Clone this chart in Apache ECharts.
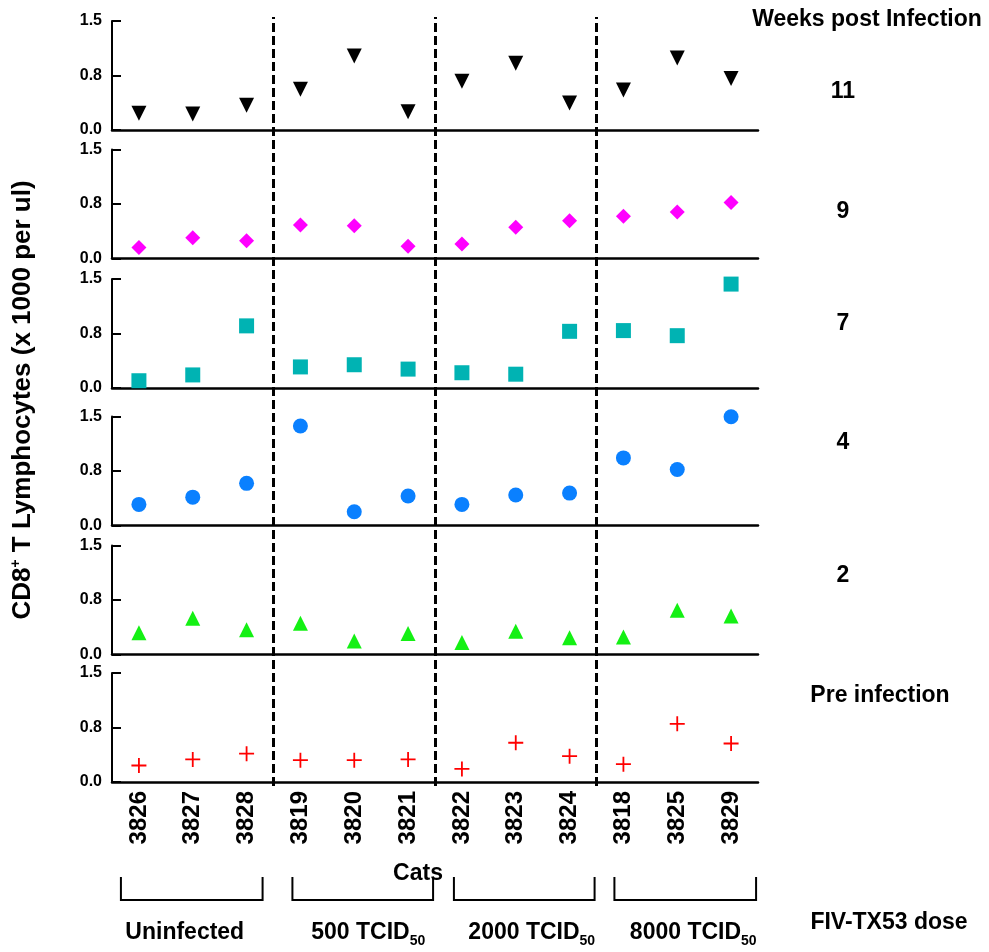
<!DOCTYPE html>
<html>
<head>
<meta charset="utf-8">
<script src="https://cdn.jsdelivr.net/npm/echarts@6/dist/echarts.min.js"></script>
<style>
html,body{margin:0;padding:0;background:#fff;}
#c{width:989px;height:952px;}
</style>
</head>
<body>
<div id="c"></div>
<script>
// ---- data ----
const cats = ['3826','3827','3828','3819','3820','3821','3822','3823','3824','3818','3825','3829'];
const week11 = [0.23, 0.22, 0.34, 0.56, 1.02, 0.25, 0.67, 0.92, 0.37, 0.55, 0.99, 0.71];
const week9  = [0.15, 0.285, 0.245, 0.46, 0.45, 0.17, 0.20, 0.43, 0.52, 0.58, 0.64, 0.77];
const week7  = [0.10, 0.18, 0.855, 0.29, 0.32, 0.26, 0.21, 0.19, 0.78, 0.79, 0.72, 1.43];
const week4  = [0.29, 0.39, 0.58, 1.37, 0.19, 0.405, 0.29, 0.42, 0.446, 0.93, 0.77, 1.497];
const week2  = [0.30, 0.50, 0.34, 0.43, 0.185, 0.29, 0.166, 0.32, 0.23, 0.24, 0.61, 0.53];
const preInf = [0.227, 0.31, 0.39, 0.30, 0.30, 0.31, 0.18, 0.54, 0.355, 0.245, 0.80, 0.53];
const panelNames = ['11', '9', '7', '4', '2', 'Pre infection'];
const yTickValues = [0, 0.75, 1.5];
const yTickLabels = ['0.0', '0.8', '1.5'];
const groupNames = ['Uninfected', '500 TCID', '2000 TCID', '8000 TCID'];
const groupSubs = ['', '50', '50', '50'];
const groupSeparators = [3, 6, 9];

// ---- layout / style ----
const FONT = 'Liberation Sans';
const gridLeft = 112, gridWidth = 646, gridH = 109;
const gridTops = [21, 149.5, 279, 416.5, 545.5, 673];
const panelLabelY = [92, 212, 324, 443, 576, 696];
const plusPath = 'path://M0,6.6H6.6V0H8.4V6.6H15V8.4H8.4V15H6.6V8.4H0Z';
const panelSeries = [
  {data: week11, symbol: 'triangle', rotate: 180, color: '#000000', size: 15},
  {data: week9, symbol: 'diamond', rotate: 0, color: '#ff00ff', size: [15, 15]},
  {data: week7, symbol: 'rect', rotate: 0, color: '#00b3b3', size: 15},
  {data: week4, symbol: 'circle', rotate: 0, color: '#0a80ff', size: 15},
  {data: week2, symbol: 'triangle', rotate: 0, color: '#14f014', size: 15},
  {data: preInf, symbol: plusPath, rotate: 0, color: '#ff0000', size: 15}
];

const grids = [], xAxes = [], yAxes = [], series = [];
panelSeries.forEach((p, i) => {
  grids.push({left: gridLeft, width: gridWidth, top: gridTops[i], height: gridH});
  xAxes.push({
    type: 'category', gridIndex: i, data: cats, boundaryGap: true,
    axisLine: {lineStyle: {color: '#000', width: 2.5}},
    axisTick: {inside: true, length: 10, alignWithLabel: true, lineStyle: {color: '#000', width: 2}},
    axisLabel: i === 5 ? {rotate: 90, margin: 9, color: '#000', fontFamily: FONT, fontWeight: 'bold', fontSize: 24} : {show: false},
    splitLine: {show: false}
  });
  yAxes.push({
    type: 'value', gridIndex: i, min: 0, max: 1.5, interval: 0.75,
    axisLine: {show: true, lineStyle: {color: '#000', width: 2}},
    axisTick: {show: true, inside: true, length: 9, lineStyle: {color: '#000', width: 2}},
    axisLabel: {margin: 10, color: '#000', fontFamily: FONT, fontWeight: 'bold', fontSize: 16,
      formatter: v => { const k = yTickValues.findIndex(t => Math.abs(t - v) < 1e-6); return k >= 0 ? yTickLabels[k] : ''; }},
    splitLine: {show: false}
  });
  series.push({
    type: 'scatter', xAxisIndex: i, yAxisIndex: i, data: p.data,
    symbol: p.symbol, symbolRotate: p.rotate, symbolSize: p.size,
    itemStyle: {color: p.color, opacity: 1}, z: 5, silent: true
  });
});

// separator overlay grid
grids.push({left: gridLeft, width: gridWidth, top: 17, height: 769});
xAxes.push({type: 'value', gridIndex: 6, min: 0, max: cats.length, show: false});
yAxes.push({type: 'value', gridIndex: 6, min: 0, max: 1, show: false});
series.push({
  type: 'line', xAxisIndex: 6, yAxisIndex: 6, data: [], silent: true,
  markLine: {
    silent: true, symbol: ['none', 'none'], label: {show: false},
    lineStyle: {color: '#000', type: [9, 4], width: 3},
    data: groupSeparators.map(v => ({xAxis: v}))
  }
});

const chart = echarts.init(document.getElementById('c'), null, {renderer: 'canvas'});
chart.setOption({
  animation: false,
  backgroundColor: '#fff',
  grid: grids, xAxis: xAxes, yAxis: yAxes, series: series
});

// annotations positioned via the library's scales
const cx = name => chart.convertToPixel({xAxisIndex: 5}, name);
const txt = (text, x, y, extra) => Object.assign({
  type: 'text', x: x, y: y, silent: true,
  style: {text: text, fill: '#000', font: 'bold 23px ' + FONT, align: 'center', verticalAlign: 'middle'}
}, extra || {});

const graphics = [];
// y axis title
graphics.push({
  type: 'text', x: 23, y: 400, rotation: Math.PI / 2, silent: true,
  style: {
    text: '{b|CD8}{s|+}{b| T Lymphocytes (x 1000 per ul)}',
    align: 'center', verticalAlign: 'middle',
    rich: {
      b: {fontFamily: FONT, fontWeight: 'bold', fontSize: 26, fill: '#000', lineHeight: 28},
      s: {fontFamily: FONT, fontWeight: 'bold', fontSize: 14, fill: '#000', verticalAlign: 'top', lineHeight: 14}
    }
  }
});
graphics.push(txt('Weeks post Infection', 867, 20));
panelNames.forEach((n, i) => graphics.push(txt(n, n.length > 2 ? 880 : 843, panelLabelY[i])));
graphics.push(txt('Cats', 418, 874));
graphics.push(txt('FIV-TX53 dose', 889, 923));

const bracketOffL = [-18, -8, -8, -9];
const bracketOffR = [16, 25, 25, 25];
const labelOff = [-8, 14, 16, 16];
groupNames.forEach((g, k) => {
  const xl = cx(cats[k * 3]) + bracketOffL[k];
  const xr = cx(cats[k * 3 + 2]) + bracketOffR[k];
  graphics.push({
    type: 'polyline', silent: true,
    shape: {points: [[xl, 877], [xl, 900], [xr, 900], [xr, 877]]},
    style: {stroke: '#000', lineWidth: 2, fill: null}
  });
  const xm = cx(cats[k * 3 + 1]) + labelOff[k];
  graphics.push({
    type: 'text', x: xm, y: 933, silent: true,
    style: {
      text: groupSubs[k] ? '{m|' + g + '}{s|' + groupSubs[k] + '}' : '{m|' + g + '}',
      align: 'center', verticalAlign: 'middle',
      rich: {
        m: {fontFamily: FONT, fontWeight: 'bold', fontSize: 23, fill: '#000', lineHeight: 30},
        s: {fontFamily: FONT, fontWeight: 'bold', fontSize: 14, fill: '#000', verticalAlign: 'bottom', lineHeight: 14}
      }
    }
  });
});
chart.setOption({graphic: graphics});
</script>
</body>
</html>
